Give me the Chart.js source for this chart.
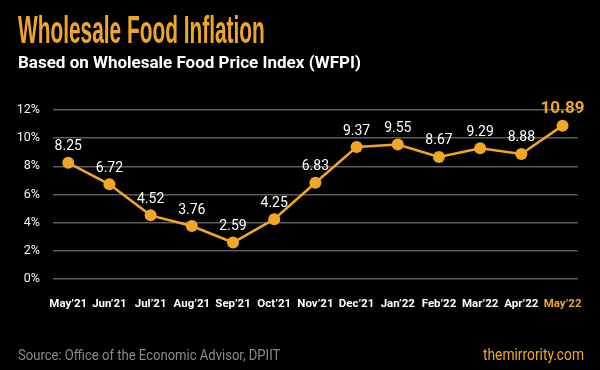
<!DOCTYPE html>
<html>
<head>
<meta charset="utf-8">
<script src="https://cdn.jsdelivr.net/npm/chart.js@4"></script>
<style>
  html, body { margin: 0; padding: 0; background: #000; }
  #wrap { position: relative; width: 600px; height: 370px; background: #000; overflow: hidden; }
  #title { position: absolute; left: 18px; top: 11px; font-family: "Liberation Sans Narrow", "Liberation Sans", sans-serif;
    font-weight: bold; font-size: 38px; color: #EFA724; white-space: nowrap; transform-origin: left top; line-height: 1; }
  #sub { position: absolute; left: 18px; top: 52px; font-family: Roboto, sans-serif; font-weight: bold; font-size: 17px;
    color: #fff; white-space: nowrap; }
  #src { position: absolute; left: 18px; top: 346px; font-family: Roboto, sans-serif; font-size: 15.5px; color: #8a8a8a;
    white-space: nowrap; transform-origin: left top; }
  #site { position: absolute; left: 483px; top: 345px; font-family: Roboto, sans-serif; font-size: 16.5px; color: #EFA724;
    white-space: nowrap; transform-origin: left top; }
  #box { position: absolute; left: 0; top: 0; width: 600px; height: 370px; }
</style>
</head>
<body>
<div id="wrap">
  <div id="box"><canvas id="myChart" width="600" height="370"></canvas></div>
  <div id="title">Wholesale Food Inflation</div>
  <div id="sub">Based on Wholesale Food Price Index (WFPI)</div>
  <div id="src">Source: Office of the Economic Advisor, DPIIT</div>
  <div id="site">themirrority.com</div>
</div>
<script>
var months = ["May’21", "Jun’21", "Jul’21", "Aug’21", "Sep’21", "Oct’21", "Nov’21",
  "Dec’21", "Jan’22", "Feb’22", "Mar’22", "Apr’22", "May’22"];
var inflation = [8.25, 6.72, 4.52, 3.76, 2.59, 4.25, 6.83, 9.37, 9.55, 8.67, 9.29, 8.88, 10.89];
var yTicks = [0, 2, 4, 6, 8, 10, 12];

var yellow = "#EFA724";

// squeeze condensed texts to the widths of the original
function squeeze(id, w) {
  var el = document.getElementById(id);
  el.style.transform = "scaleX(" + (w / el.offsetWidth) + ")";
}
squeeze("title", 247);
squeeze("src", 262);
squeeze("site", 101);

var points = inflation.map(function (v, i) {
  return { x: i, y: v };
});

// value labels above each point
var valueLabels = {
  id: "valueLabels",
  afterDatasetsDraw(chart) {
    const ctx = chart.ctx;
    const meta = chart.getDatasetMeta(0);
    ctx.save();
    ctx.textAlign = "center";
    ctx.textBaseline = "middle";
    meta.data.forEach(function (pt, i) {
      var last = i === inflation.length - 1;
      ctx.fillStyle = last ? yellow : "#fff";
      ctx.font = last ? "bold 17px Roboto" : "14px Roboto";
      ctx.fillText(inflation[i].toFixed(2), pt.x, pt.y - (last ? 17 : 16));
    });
    ctx.restore();
  },
};

const ctx = document.getElementById("myChart");
new Chart(ctx, {
  type: "line",
  data: {
    datasets: [
      {
        data: points,
        borderColor: yellow,
        backgroundColor: yellow,
        borderWidth: 2.5,
        pointRadius: 6,
        pointHoverRadius: 6,
        pointBorderWidth: 0,
        tension: 0,
        fill: false,
      },
    ],
  },
  options: {
    responsive: false,
    animation: false,
    maintainAspectRatio: false,
    layout: { padding: { top: 110, right: 18, left: 0, bottom: 0 } },
    plugins: {
      legend: { display: false },
      tooltip: { enabled: false },
    },
    scales: {
      x: {
        type: "linear",
        min: -0.37,
        max: 12.37,
        afterBuildTicks(scale) {
          scale.ticks = months.map(function (m, i) { return { value: i }; });
        },
        afterFit(scale) { scale.height = 91; },
        grid: { display: false, drawTicks: false },
        border: { display: false },
        ticks: {
          padding: 18,
          autoSkip: false,
          maxRotation: 0,
          font: { family: "Roboto", weight: "bold", size: 11.5 },
          color: function (c) { return c.index === months.length - 1 ? yellow : "#fff"; },
          callback: function (v, i) { return months[i]; },
        },
      },
      y: {
        min: 0,
        max: 12,
        afterBuildTicks(scale) {
          scale.ticks = yTicks.map(function (v) { return { value: v }; });
        },
        afterFit(scale) { scale.width = 53; },
        grid: { color: "#5c5c5c", lineWidth: 1.5, drawTicks: false },
        border: { display: false },
        ticks: {
          padding: 13,
          color: "#f2f2f2",
          font: { family: "Roboto", size: 12.5 },
          callback: function (v) { return v + "%"; },
        },
      },
    },
  },
  plugins: [valueLabels],
});
</script>
</body>
</html>
